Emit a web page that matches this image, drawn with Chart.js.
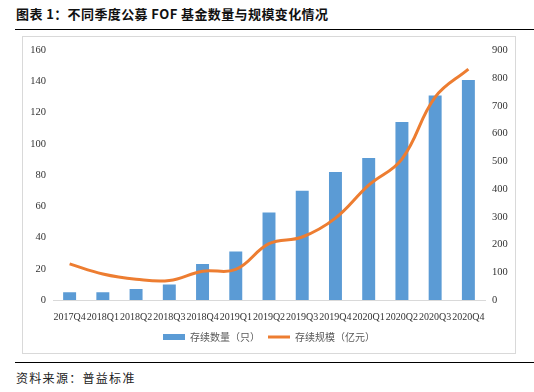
<!DOCTYPE html>
<html>
<head>
<meta charset="utf-8">
<script src="https://cdn.jsdelivr.net/npm/chart.js@4/dist/chart.umd.min.js"></script>
<style>
  body { margin: 0; width: 534px; height: 392px; background: #fff; position: relative; overflow: hidden; }
  #title { position: absolute; left: 16px; top: 4px; font: bold 13px "Noto Sans CJK SC"; letter-spacing: 0.4px; color: #111; white-space: nowrap; }
  .rule { position: absolute; left: 15px; width: 519px; height: 1px; background: #000; }
  #box { position: absolute; left: 22px; top: 36px; width: 494px; height: 318px; box-sizing: border-box; border: 1px solid #d9d9d9; }
  #wrap { position: absolute; left: 23px; top: 37px; width: 492px; height: 316px; }
  #source { position: absolute; left: 16px; top: 369px; font: 12px "Noto Sans CJK SC"; letter-spacing: 1.3px; color: #222; white-space: nowrap; }
</style>
</head>
<body>
<div id="title">图表 1：不同季度公募 FOF 基金数量与规模变化情况</div>
<div class="rule" style="top:29px"></div>
<div id="box"></div>
<div id="wrap"><canvas id="myChart" width="492" height="316"></canvas></div>
<div class="rule" style="top:362px"></div>
<div id="source">资料来源：普益标准</div>
<script>
var quarters = ["2017Q4", "2018Q1", "2018Q2", "2018Q3", "2018Q4", "2019Q1", "2019Q2",
  "2019Q3", "2019Q4", "2020Q1", "2020Q2", "2020Q3", "2020Q4"];
var fundCount = [5, 5, 7, 10, 23, 31, 56, 70, 82, 91, 114, 131, 141];
var fundScale = [130, 94, 75, 70, 104, 110, 203, 227, 295, 414, 508, 731, 832];
var countTicks = [0, 160, 20];
var scaleTicks = [0, 900, 100];

var tickFont = { family: "Liberation Serif", size: 10.5 };
var tickColor = "#333";

var ctx = document.getElementById("myChart");
var myChart = new Chart(ctx, {
  data: {
    labels: quarters,
    datasets: [
      {
        type: "bar",
        label: "存续数量（只）",
        data: fundCount,
        backgroundColor: "#5b9bd5",
        barPercentage: 0.39,
        categoryPercentage: 1,
        yAxisID: "y",
        order: 2,
      },
      {
        type: "line",
        label: "存续规模（亿元）",
        data: fundScale,
        borderColor: "#ed7d31",
        backgroundColor: "#ed7d31",
        borderWidth: 3,
        pointRadius: 0,
        tension: 0.4,
        fill: false,
        yAxisID: "y1",
        order: 1,
      },
    ],
  },
  options: {
    responsive: false,
    animation: false,
    layout: { padding: { top: 11, left: 0, right: 0, bottom: 1 } },
    plugins: {
      tooltip: { enabled: false },
      legend: {
        position: "bottom",
        labels: {
          usePointStyle: true,
          pointStyleWidth: 22,
          boxHeight: 6,
          padding: 8,
          color: "#595959",
          font: { family: "Noto Sans CJK SC", size: 10 },
          sort: function (a, b) { return a.datasetIndex - b.datasetIndex; },
          generateLabels: function (chart) {
            var items = Chart.defaults.plugins.legend.labels.generateLabels(chart);
            items.forEach(function (it) {
              if (it.datasetIndex === 0) {
                it.pointStyle = "rect";
                it.lineWidth = 0;
                it.fillStyle = "#5b9bd5";
                it.strokeStyle = "#5b9bd5";
              } else {
                it.pointStyle = "line";
                it.lineWidth = 3;
                it.strokeStyle = "#ed7d31";
              }
            });
            return items;
          },
        },
      },
    },
    scales: {
      x: {
        grid: { display: false, drawTicks: false },
        border: { color: "#d9d9d9", width: 1 },
        ticks: { autoSkip: false, maxRotation: 0, minRotation: 0, padding: 11, color: tickColor, font: { family: "Liberation Serif", size: 10 } },
        afterFit: function (s) { s.height = 24; },
      },
      y: {
        position: "left",
        min: countTicks[0],
        max: countTicks[1],
        grid: { display: false, drawTicks: false },
        border: { display: false },
        ticks: { stepSize: countTicks[2], padding: 7, color: tickColor, font: tickFont },
        afterFit: function (s) { s.width = 30; },
      },
      y1: {
        position: "right",
        min: scaleTicks[0],
        max: scaleTicks[1],
        grid: { display: false, drawTicks: false },
        border: { display: false },
        ticks: { stepSize: scaleTicks[2], padding: 7, color: tickColor, font: tickFont },
        afterFit: function (s) { s.width = 30; },
      },
    },
  },
});
</script>
</body>
</html>
